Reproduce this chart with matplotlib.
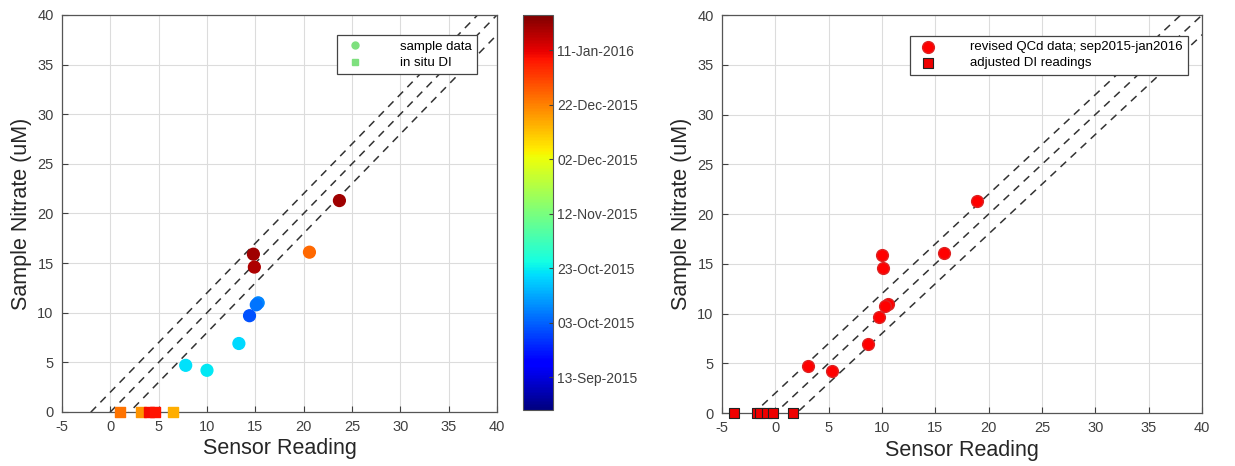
import matplotlib
matplotlib.use("Agg")
import matplotlib.pyplot as plt
import matplotlib.dates as mdates
import numpy as np

plt.rcParams['font.family'] = ['Liberation Sans', 'DejaVu Sans']
plt.rcParams['axes.unicode_minus'] = False

# left panel: raw sensor readings, coloured by sample date
raw_x = [23.7, 14.8, 14.9, 20.6, 15.3, 15.1, 14.4, 13.3, 7.8, 10.0]
raw_y = [21.3, 15.9, 14.6, 16.1, 11.0, 10.8, 9.7, 6.9, 4.7, 4.2]
raw_dates = ['2016-01-20', '2016-01-20', '2016-01-18', '2015-12-26', '2015-10-08',
             '2015-10-06', '2015-10-01', '2015-10-20', '2015-10-21', '2015-10-22']
di_x = [1.0, 3.2, 4.0, 4.6, 6.5]
di_y = [0, 0, 0, 0, 0]
di_dates = ['2015-12-24', '2015-12-19', '2016-01-09', '2016-01-08', '2015-12-15']

# right panel: revised QC'd data
rev_x = [18.9, 10.0, 10.1, 15.8, 10.6, 10.3, 9.7, 8.7, 3.1, 5.3]
rev_y = [21.3, 15.9, 14.6, 16.1, 11.0, 10.8, 9.7, 6.9, 4.7, 4.2]
adj_x = [-3.9, -1.7, -1.4, -0.8, -0.2, 1.7]
adj_y = [0, 0, 0, 0, 0, 0]

offsets = [2, 0, -2]
cb_ticks = ['2015-09-13', '2015-10-03', '2015-10-23', '2015-11-12',
            '2015-12-02', '2015-12-22', '2016-01-11']
cb_range = ['2015-09-01', '2016-01-24']

tonum = lambda d: mdates.datestr2num(d)
vmin, vmax = tonum(cb_range[0]), tonum(cb_range[1])

fig = plt.figure(figsize=(12.35, 4.66), dpi=100)
ax1 = fig.add_axes([0.0502, 0.1159, 0.3522, 0.852])
cax = fig.add_axes([0.4235, 0.120, 0.0243, 0.848])
ax2 = fig.add_axes([0.5846, 0.1137, 0.3887, 0.854])

axcol = '#404040'


def style(ax):
    ax.set_xlim(-5, 40)
    ax.set_ylim(0, 40)
    ax.set_xticks(np.arange(-5, 41, 5))
    ax.set_yticks(np.arange(0, 41, 5))
    ax.grid(True, color='#dcdcdc', linewidth=0.8)
    ax.set_axisbelow(True)
    ax.tick_params(direction='in', length=4, labelsize=10.5, colors=axcol, pad=6)
    for s in ax.spines.values():
        s.set_color('#555555')
        s.set_linewidth(0.9)
    ax.set_xlabel('Sensor Reading', fontsize=15.5, color='#262626', labelpad=3)
    ax.set_ylabel('Sample Nitrate (uM)', fontsize=15.5, color='#262626', labelpad=4)
    xs = np.array([-5, 45])
    for o in offsets:
        ax.plot(xs, xs + o, linestyle=(0, (5, 4)), color='#333333', linewidth=1.1, zorder=2)


style(ax1)
style(ax2)

norm = plt.Normalize(vmin, vmax)
sc = ax1.scatter(raw_x, raw_y, c=[tonum(d) for d in raw_dates], cmap='jet', norm=norm,
                 s=72, marker='o', zorder=3, label='sample data')
ax1.scatter(di_x, di_y, c=[tonum(d) for d in di_dates], cmap='jet', norm=norm,
            s=55, marker='s', zorder=3, clip_on=False, label='in situ DI')
h1 = [plt.Line2D([], [], marker='o', ls='none', color='#7ee07e', markersize=5),
      plt.Line2D([], [], marker='s', ls='none', color='#7ee07e', markersize=4.5)]
leg1 = ax1.legend(h1, ['sample data', 'in situ DI'], loc='upper right', fontsize=9.5,
                  fancybox=False, edgecolor='#444444', framealpha=1,
                  bbox_to_anchor=(0.97, 0.965), handletextpad=2.4, borderpad=0.4,
                  labelspacing=0.3)
leg1.get_frame().set_linewidth(0.9)
leg1.set_zorder(5)

cb = fig.colorbar(sc, cax=cax)
cb.set_ticks([tonum(d) for d in cb_ticks])
cb.set_ticklabels([mdates.num2date(tonum(d)).strftime('%d-%b-%Y') for d in cb_ticks])
cax.tick_params(direction='in', length=3, labelsize=10, colors=axcol, pad=3)
cb.outline.set_edgecolor('#555555')

ax2.scatter(rev_x, rev_y, color='#ff0000', edgecolor='#dd2222', s=72, marker='o',
            zorder=3, label='revised QCd data; sep2015-jan2016')
ax2.scatter(adj_x, adj_y, color='#ee0000', edgecolor='#222222', linewidth=0.8, s=60,
            marker='s', zorder=3, clip_on=False, label='adjusted DI readings')
leg2 = ax2.legend(loc='upper right', fontsize=9.5, fancybox=False, edgecolor='#444444',
                  framealpha=1, bbox_to_anchor=(0.985, 0.965), handletextpad=2.2,
                  borderpad=0.4, labelspacing=0.3)
leg2.get_frame().set_linewidth(0.9)
leg2.set_zorder(5)

fig.savefig('out.png', dpi=100)
